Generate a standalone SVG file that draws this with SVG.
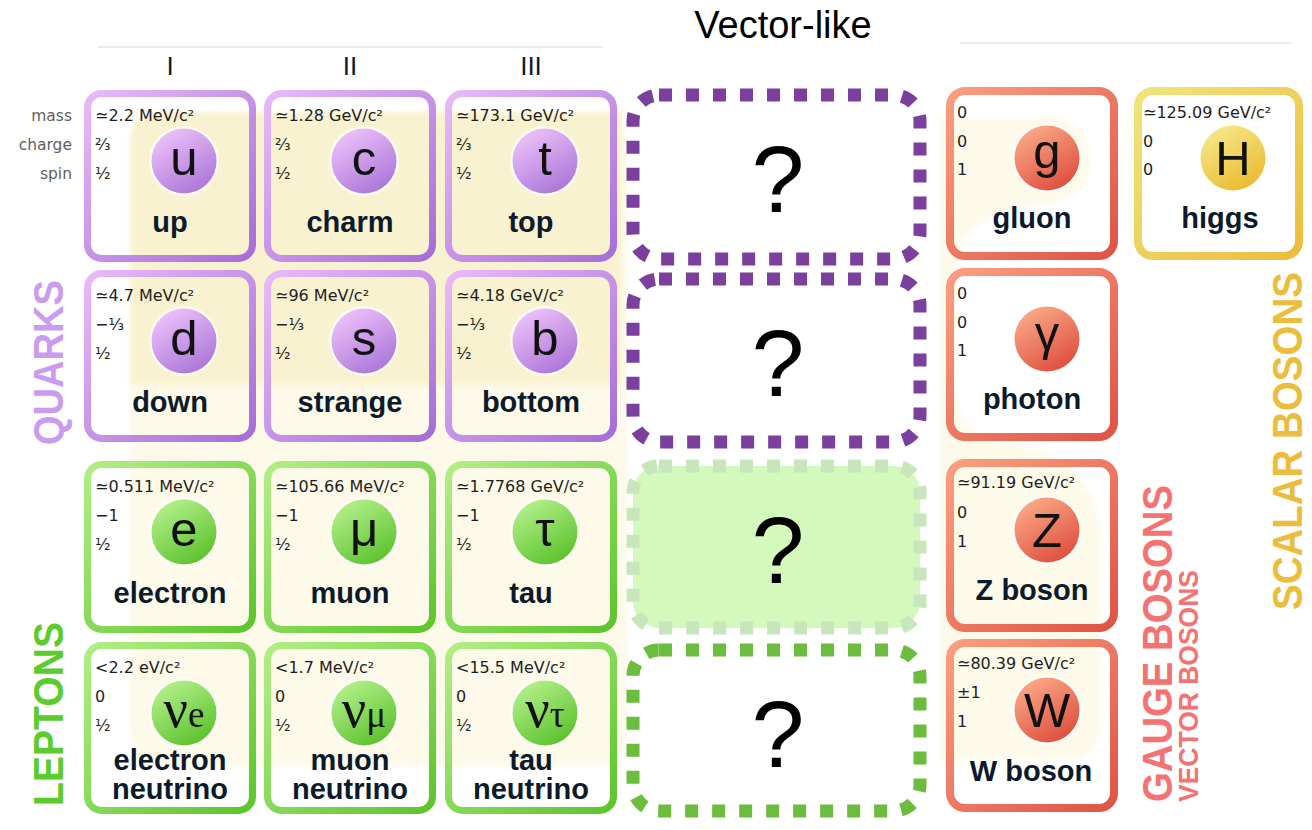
<svg xmlns="http://www.w3.org/2000/svg" width="1312" height="830" viewBox="0 0 1312 830">
<style>
.val{font-family:"DejaVu Sans",sans-serif;font-size:16px;fill:#1e1e1e}
.lbl{font-family:"DejaVu Sans",sans-serif;font-size:15.5px;fill:#5f5f5f;text-anchor:end}
.name{font-family:"Liberation Sans",Arial,sans-serif;font-weight:bold;font-size:29px;fill:#0c1a2b;text-anchor:middle}
.sym{font-family:"Liberation Sans",Arial,sans-serif;font-size:49px;fill:#111;text-anchor:middle}
.nu{font-family:"Liberation Serif","Times New Roman",serif;fill:#111;text-anchor:middle}
.gen{font-family:"Liberation Sans",Arial,sans-serif;font-size:26px;fill:#0c1a2b;text-anchor:middle}
.qm{font-family:"Liberation Sans",Arial,sans-serif;font-size:95px;fill:#000;text-anchor:middle}
.side{font-family:"Liberation Sans",Arial,sans-serif;font-weight:bold}
.frame{fill:none;stroke-width:7}
.bframe{fill:none;stroke-width:8}
.q{stroke:url(#sq)} .l{stroke:url(#sl)} .g{stroke:url(#sg)} .h{stroke:url(#sh)}
.halo{fill:#fff;opacity:.7}
.dash{stroke-width:13;stroke-dasharray:13 14}
.rule{stroke:#e6ebf3;stroke-width:2;fill:none}
</style>
<defs>
<linearGradient id="sq" x1="0" y1="0" x2="1" y2="1"><stop offset="0" stop-color="#e8baf8"/><stop offset="1" stop-color="#a56ed6"/></linearGradient>
<linearGradient id="sl" x1="0" y1="0" x2="1" y2="1"><stop offset="0" stop-color="#b2ee86"/><stop offset="1" stop-color="#5cc52c"/></linearGradient>
<linearGradient id="sg" x1="0" y1="0" x2="1" y2="1"><stop offset="0" stop-color="#fb9e80"/><stop offset="1" stop-color="#df5444"/></linearGradient>
<linearGradient id="sh" x1="0" y1="0" x2="1" y2="1"><stop offset="0" stop-color="#f0e47c"/><stop offset="1" stop-color="#ebbd3e"/></linearGradient>
<linearGradient id="cq" x1="0.2" y1="0" x2="0.8" y2="1"><stop offset="0" stop-color="#efc4fb"/><stop offset="1" stop-color="#a872d6"/></linearGradient>
<linearGradient id="cl" x1="0.2" y1="0" x2="0.8" y2="1"><stop offset="0" stop-color="#b6f28e"/><stop offset="1" stop-color="#58bf28"/></linearGradient>
<linearGradient id="cg" x1="0.2" y1="0" x2="0.8" y2="1"><stop offset="0" stop-color="#fcac8a"/><stop offset="1" stop-color="#dc4a3a"/></linearGradient>
<linearGradient id="ch" x1="0.2" y1="0" x2="0.8" y2="1"><stop offset="0" stop-color="#f8e98c"/><stop offset="1" stop-color="#e9b82a"/></linearGradient>
<filter id="soft" x="-5%" y="-5%" width="110%" height="110%"><feGaussianBlur stdDeviation="2.5"/></filter>
</defs>
<rect width="1312" height="830" fill="#fff"/>

<!-- background washes -->
<g id="backdrop" filter="url(#soft)">
  <rect x="130" y="112" width="497" height="655" rx="32" fill="#fdfaea"/>
  <path d="M130 385 V144 Q130 112 162 112 H622 V385 Z" fill="#f9f2d0"/>
  <path d="M940 118 H1045 Q1090 118 1090 163 Q1090 200 1040 205 Q958 215 955 270 V380 Q955 440 1010 445 Q1100 455 1100 540 V725 Q1100 760 1065 760 H940 Z" fill="#fdfaea"/>
</g>

<!-- headings -->
<g id="headings">
  <text x="783" y="38" font-family="Liberation Sans, Arial, sans-serif" font-size="38" text-anchor="middle" fill="#000">Vector-like</text>
  <line class="rule" x1="98" y1="47" x2="603" y2="47"/>
  <line class="rule" x1="960" y1="43" x2="1291" y2="43"/>
  <text class="gen" x="170" y="75">I</text>
  <text class="gen" x="350" y="75">II</text>
  <text class="gen" x="531" y="75">III</text>
  <text class="lbl" x="72" y="121">mass</text>
  <text class="lbl" x="72" y="150">charge</text>
  <text class="lbl" x="72" y="179">spin</text>
</g>

<!-- quarks, row 1 -->
<g id="up">
  <rect class="frame q" x="87.5" y="93.5" width="165" height="165" rx="14"/>
  <text class="val" x="95" y="121">≃2.2 MeV/c²</text><text class="val" x="95" y="150">⅔</text><text class="val" x="95" y="179">½</text>
  <circle class="halo" cx="184" cy="161" r="35"/><circle cx="184" cy="161" r="32.5" fill="url(#cq)"/>
  <text class="sym" x="184" y="175">u</text>
  <text class="name" x="170" y="232">up</text>
</g>
<g id="charm">
  <rect class="frame q" x="267.5" y="93.5" width="165" height="165" rx="14"/>
  <text class="val" x="275" y="121">≃1.28 GeV/c²</text><text class="val" x="275" y="150">⅔</text><text class="val" x="275" y="179">½</text>
  <circle class="halo" cx="364" cy="161" r="35"/><circle cx="364" cy="161" r="32.5" fill="url(#cq)"/>
  <text class="sym" x="364" y="175">c</text>
  <text class="name" x="350" y="232">charm</text>
</g>
<g id="top">
  <rect class="frame q" x="448.5" y="93.5" width="165" height="165" rx="14"/>
  <text class="val" x="456" y="121">≃173.1 GeV/c²</text><text class="val" x="456" y="150">⅔</text><text class="val" x="456" y="179">½</text>
  <circle class="halo" cx="545" cy="161" r="35"/><circle cx="545" cy="161" r="32.5" fill="url(#cq)"/>
  <text class="sym" x="545" y="175">t</text>
  <text class="name" x="531" y="232">top</text>
</g>

<!-- quarks, row 2 -->
<g id="down">
  <rect class="frame q" x="87.5" y="273.5" width="165" height="165" rx="14"/>
  <text class="val" x="95" y="301">≃4.7 MeV/c²</text><text class="val" x="95" y="330">−⅓</text><text class="val" x="95" y="359">½</text>
  <circle class="halo" cx="184" cy="341" r="35"/><circle cx="184" cy="341" r="32.5" fill="url(#cq)"/>
  <text class="sym" x="184" y="355">d</text>
  <text class="name" x="170" y="412">down</text>
</g>
<g id="strange">
  <rect class="frame q" x="267.5" y="273.5" width="165" height="165" rx="14"/>
  <text class="val" x="275" y="301">≃96 MeV/c²</text><text class="val" x="275" y="330">−⅓</text><text class="val" x="275" y="359">½</text>
  <circle class="halo" cx="364" cy="341" r="35"/><circle cx="364" cy="341" r="32.5" fill="url(#cq)"/>
  <text class="sym" x="364" y="355">s</text>
  <text class="name" x="350" y="412">strange</text>
</g>
<g id="bottom">
  <rect class="frame q" x="448.5" y="273.5" width="165" height="165" rx="14"/>
  <text class="val" x="456" y="301">≃4.18 GeV/c²</text><text class="val" x="456" y="330">−⅓</text><text class="val" x="456" y="359">½</text>
  <circle class="halo" cx="545" cy="341" r="35"/><circle cx="545" cy="341" r="32.5" fill="url(#cq)"/>
  <text class="sym" x="545" y="355">b</text>
  <text class="name" x="531" y="412">bottom</text>
</g>

<!-- leptons, row 3 -->
<g id="electron">
  <rect class="frame l" x="87.5" y="464.5" width="165" height="165" rx="14"/>
  <text class="val" x="95" y="492">≃0.511 MeV/c²</text><text class="val" x="95" y="521">−1</text><text class="val" x="95" y="550">½</text>
  <circle class="halo" cx="184" cy="532" r="35"/><circle cx="184" cy="532" r="32.5" fill="url(#cl)"/>
  <text class="sym" x="184" y="546">e</text>
  <text class="name" x="170" y="603">electron</text>
</g>
<g id="muon">
  <rect class="frame l" x="267.5" y="464.5" width="165" height="165" rx="14"/>
  <text class="val" x="275" y="492">≃105.66 MeV/c²</text><text class="val" x="275" y="521">−1</text><text class="val" x="275" y="550">½</text>
  <circle class="halo" cx="364" cy="532" r="35"/><circle cx="364" cy="532" r="32.5" fill="url(#cl)"/>
  <text class="sym" x="364" y="546">μ</text>
  <text class="name" x="350" y="603">muon</text>
</g>
<g id="tau">
  <rect class="frame l" x="448.5" y="464.5" width="165" height="165" rx="14"/>
  <text class="val" x="456" y="492">≃1.7768 GeV/c²</text><text class="val" x="456" y="521">−1</text><text class="val" x="456" y="550">½</text>
  <circle class="halo" cx="545" cy="532" r="35"/><circle cx="545" cy="532" r="32.5" fill="url(#cl)"/>
  <text class="sym" x="545" y="546">τ</text>
  <text class="name" x="531" y="603">tau</text>
</g>

<!-- neutrinos, row 4 -->
<g id="electron-neutrino">
  <rect class="frame l" x="87.5" y="645.5" width="165" height="165" rx="14"/>
  <text class="val" x="95" y="673">&lt;2.2 eV/c²</text><text class="val" x="95" y="702">0</text><text class="val" x="95" y="731">½</text>
  <circle class="halo" cx="184" cy="713" r="35"/><circle cx="184" cy="713" r="32.5" fill="url(#cl)"/>
  <text class="nu" x="184" y="727"><tspan font-size="54">ν</tspan><tspan font-size="37">e</tspan></text>
  <text class="name" x="170" y="770">electron</text><text class="name" x="170" y="799">neutrino</text>
</g>
<g id="muon-neutrino">
  <rect class="frame l" x="267.5" y="645.5" width="165" height="165" rx="14"/>
  <text class="val" x="275" y="673">&lt;1.7 MeV/c²</text><text class="val" x="275" y="702">0</text><text class="val" x="275" y="731">½</text>
  <circle class="halo" cx="364" cy="713" r="35"/><circle cx="364" cy="713" r="32.5" fill="url(#cl)"/>
  <text class="nu" x="364" y="727"><tspan font-size="54">ν</tspan><tspan font-size="37">μ</tspan></text>
  <text class="name" x="350" y="770">muon</text><text class="name" x="350" y="799">neutrino</text>
</g>
<g id="tau-neutrino">
  <rect class="frame l" x="448.5" y="645.5" width="165" height="165" rx="14"/>
  <text class="val" x="456" y="673">&lt;15.5 MeV/c²</text><text class="val" x="456" y="702">0</text><text class="val" x="456" y="731">½</text>
  <circle class="halo" cx="545" cy="713" r="35"/><circle cx="545" cy="713" r="32.5" fill="url(#cl)"/>
  <text class="nu" x="545" y="727"><tspan font-size="54">ν</tspan><tspan font-size="37">τ</tspan></text>
  <text class="name" x="531" y="770">tau</text><text class="name" x="531" y="799">neutrino</text>
</g>

<!-- vector-like placeholders -->
<g id="vl-quark-up">
  <rect class="dash" x="633" y="95" width="287" height="164" rx="26" fill="none" stroke="#7b3f9e"/>
  <text class="qm" x="778" y="212">?</text>
</g>
<g id="vl-quark-down">
  <rect class="dash" x="633" y="279" width="287" height="163" rx="26" fill="none" stroke="#7b3f9e"/>
  <text class="qm" x="778" y="396">?</text>
</g>
<g id="vl-lepton">
  <rect class="dash" x="633" y="466" width="287" height="162" rx="26" fill="#d4f9bc" stroke="#c8e6bb"/>
  <text class="qm" x="778" y="583">?</text>
</g>
<g id="vl-neutrino">
  <rect class="dash" x="633" y="650" width="287" height="161" rx="26" fill="none" stroke="#6cbd3e"/>
  <text class="qm" x="778" y="767">?</text>
</g>

<!-- bosons -->
<g id="gluon">
  <rect class="bframe g" x="950" y="91" width="164" height="165" rx="15"/>
  <text class="val" x="957" y="118">0</text><text class="val" x="957" y="147">0</text><text class="val" x="957" y="175">1</text>
  <circle class="halo" cx="1047" cy="158" r="35"/><circle cx="1047" cy="158" r="32.5" fill="url(#cg)"/>
  <text class="sym" x="1047" y="168">g</text>
  <text class="name" x="1032" y="228">gluon</text>
</g>
<g id="higgs">
  <rect class="bframe h" x="1138" y="91" width="161" height="165" rx="15"/>
  <text class="val" x="1143" y="118">≃125.09 GeV/c²</text><text class="val" x="1143" y="147">0</text><text class="val" x="1143" y="175">0</text>
  <circle class="halo" cx="1233" cy="158" r="35"/><circle cx="1233" cy="158" r="32.5" fill="url(#ch)"/>
  <text class="sym" x="1233" y="175">H</text>
  <text class="name" x="1220" y="228">higgs</text>
</g>
<g id="photon">
  <rect class="bframe g" x="950" y="272" width="164" height="165" rx="15"/>
  <text class="val" x="957" y="299">0</text><text class="val" x="957" y="328">0</text><text class="val" x="957" y="356">1</text>
  <circle class="halo" cx="1047" cy="339" r="35"/><circle cx="1047" cy="339" r="32.5" fill="url(#cg)"/>
  <text class="sym" x="1047" y="350">γ</text>
  <text class="name" x="1032" y="409">photon</text>
</g>
<g id="z-boson">
  <rect class="bframe g" x="950" y="463" width="164" height="165" rx="15"/>
  <text class="val" x="957" y="488">≃91.19 GeV/c²</text><text class="val" x="957" y="518">0</text><text class="val" x="957" y="547">1</text>
  <circle class="halo" cx="1047" cy="530" r="35"/><circle cx="1047" cy="530" r="32.5" fill="url(#cg)"/>
  <text class="sym" x="1047" y="547">Z</text>
  <text class="name" x="1032" y="600">Z boson</text>
</g>
<g id="w-boson">
  <rect class="bframe g" x="950" y="643" width="164" height="165" rx="15"/>
  <text class="val" x="957" y="669">≃80.39 GeV/c²</text><text class="val" x="957" y="698">±1</text><text class="val" x="957" y="727">1</text>
  <circle class="halo" cx="1047" cy="710" r="35"/><circle cx="1047" cy="710" r="32.5" fill="url(#cg)"/>
  <text class="sym" x="1047" y="727">W</text>
  <text class="name" x="1031" y="781">W boson</text>
</g>

<!-- group labels -->
<g id="group-labels" class="side">
  <text transform="translate(63,445) rotate(-90)" font-size="42" textLength="165" lengthAdjust="spacingAndGlyphs" fill="#c99cf0">QUARKS</text>
  <text transform="translate(63,806) rotate(-90)" font-size="42" textLength="184" lengthAdjust="spacingAndGlyphs" fill="#5ccb2e">LEPTONS</text>
  <text transform="translate(1172,802) rotate(-90)" font-size="42" textLength="317" lengthAdjust="spacingAndGlyphs" fill="#f57272">GAUGE BOSONS</text>
  <text transform="translate(1198,802) rotate(-90)" font-size="28" textLength="232" lengthAdjust="spacingAndGlyphs" fill="#f57272">VECTOR BOSONS</text>
  <text transform="translate(1302,610) rotate(-90)" font-size="42" textLength="338" lengthAdjust="spacingAndGlyphs" fill="#ecbd3c">SCALAR BOSONS</text>
</g>
</svg>
